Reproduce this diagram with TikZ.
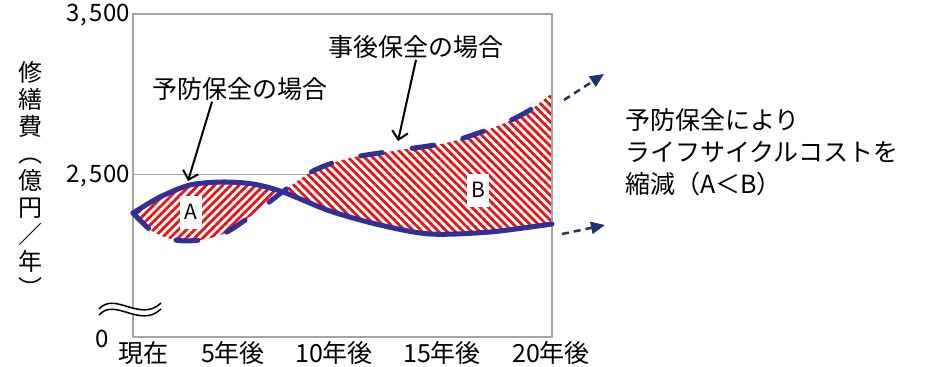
\documentclass[tikz,border=0pt]{standalone}
\usepackage{fontspec}
\setmainfont{Noto Sans CJK JP}
\usetikzlibrary{arrows.meta,patterns.meta}
\definecolor{myNavy}{RGB}{48, 48, 150}
\definecolor{myDarkNavy}{RGB}{31, 50, 110}
\definecolor{myRed}{RGB}{226, 20, 20}
\definecolor{myGray}{RGB}{165, 165, 165}

\begin{document}
\begin{tikzpicture}[x=1pt, y=-1pt,
	lbl/.style={inner sep=1pt, font=\fontsize{25}{32}\selectfont},
	tick/.style={inner sep=0pt, font=\fontsize{24}{26}\selectfont},
	tag/.style={fill=white, inner sep=0pt, minimum width=22pt, minimum height=33pt, font=\fontsize{21}{24}\selectfont},
	curve/.style={myNavy, line width=5pt, line cap=round},
	hatch/.style={pattern={Lines[angle=#1, distance=5.8pt, line width=2.8pt]}, pattern color=myRed},
	pointer/.style={-{Straight Barb[length=8pt, width=16pt]}, line width=2pt},
	trend/.style={myDarkNavy, line width=2.5pt, dash pattern=on 7pt off 5pt, -{Triangle[length=14pt, width=12pt]}}]
	\useasboundingbox (0,0) rectangle (943,367);

	% grid line and frame
	\draw[myGray, line width=1pt] (133,174) -- (552,174);

	% area A
	\begin{scope}
		\clip (133,0) rectangle (284,367);
		\fill[white] plot[smooth] coordinates {(133,213) (160,197) (190,185) (222,182) (253,184) (283,192) (330,211) (380,225) (430,234) (490,232) (552,224)}
			-- plot[smooth] coordinates {(552,93) (530,110) (500,125) (450,142) (400,150) (350,158) (315,170) (285,190) (255,213) (225,233) (200,240) (175,240) (152,231) (133,213)} -- cycle;
		\fill[hatch=45] plot[smooth] coordinates {(133,213) (160,197) (190,185) (222,182) (253,184) (283,192) (330,211) (380,225) (430,234) (490,232) (552,224)}
			-- plot[smooth] coordinates {(552,93) (530,110) (500,125) (450,142) (400,150) (350,158) (315,170) (285,190) (255,213) (225,233) (200,240) (175,240) (152,231) (133,213)} -- cycle;
	\end{scope}
	% area B
	\begin{scope}
		\clip (284,0) rectangle (552,367);
		\fill[white] plot[smooth] coordinates {(133,213) (160,197) (190,185) (222,182) (253,184) (283,192) (330,211) (380,225) (430,234) (490,232) (552,224)}
			-- plot[smooth] coordinates {(552,93) (530,110) (500,125) (450,142) (400,150) (350,158) (315,170) (285,190) (255,213) (225,233) (200,240) (175,240) (152,231) (133,213)} -- cycle;
		\fill[hatch=-45] plot[smooth] coordinates {(133,213) (160,197) (190,185) (222,182) (253,184) (283,192) (330,211) (380,225) (430,234) (490,232) (552,224)}
			-- plot[smooth] coordinates {(552,93) (530,110) (500,125) (450,142) (400,150) (350,158) (315,170) (285,190) (255,213) (225,233) (200,240) (175,240) (152,231) (133,213)} -- cycle;
	\end{scope}

	\draw[myGray, line width=1.5pt] (133,14) rectangle (552,337);

	% axis break
	\fill[white] (99,309) .. controls (115,291) and (140,323) .. (161,303) -- (161,309) .. controls (140,329) and (115,297) .. (99,315) -- cycle;
	\draw[line width=1.5pt] (99,309) .. controls (115,291) and (140,323) .. (161,303);
	\draw[line width=1.5pt] (99,315) .. controls (115,297) and (140,329) .. (161,309);

	% curves
	\draw[curve] plot[smooth] coordinates {(133,213) (160,197) (190,185) (222,182) (253,184) (283,192) (330,211) (380,225) (430,234) (490,232) (552,224)};
	\draw[curve, dash pattern=on 22pt off 30pt] plot[smooth] coordinates {(133,213) (152,231) (175,240) (200,240) (225,233) (255,213) (285,190) (315,170) (350,158) (400,150) (450,142) (500,125) (530,110) (552,93)};

	\node[tag] (A) at (191,212) {A};
	\node[tag] (B) at (478,190) {B};

	% axes labels
	\node[tick, anchor=east] (t3) at (130,15) {3,\kern3pt500};
	\node[tick, anchor=east] (t2) at (130,176) {2,\kern3pt500};
	\node[tick] (t0) at (102,339) {0};
	\node[lbl, align=center, font=\fontsize{24}{27}\selectfont] (Y) at (30,179) {修\\繕\\費\\︵\\億\\円\\／\\年\\︶};
	\node[lbl] (x0) at (143,353) {現在};
	\node[lbl] (x5) at (233,353) {5年後};
	\node[lbl] (x10) at (334,353) {10年後};
	\node[lbl] (x15) at (442,353) {15年後};
	\node[lbl] (x20) at (551,353) {20年後};

	% callouts
	\node[lbl] (P) at (240,89) {予防保全の場合};
	\node[lbl] (Q) at (416,47) {事後保全の場合};
	\coordinate (p) at (188,181);
	\coordinate (q) at (398,141);
	\draw[pointer] ([xshift=-28pt]P.south) -- (p);
	\draw[pointer] (Q.south) -- (q);

	\coordinate (s1) at (564,100);
	\coordinate (e1) at (604,74);
	\coordinate (s2) at (562,234);
	\coordinate (e2) at (605,225);
	\draw[trend] (s1) -- (e1);
	\draw[trend] (s2) -- (e2);

	\node[lbl, anchor=west, align=left] (N) at (624,152) {予防保全により\\ライフサイクルコストを\\縮減（A＜B）};
\end{tikzpicture}
\end{document}
